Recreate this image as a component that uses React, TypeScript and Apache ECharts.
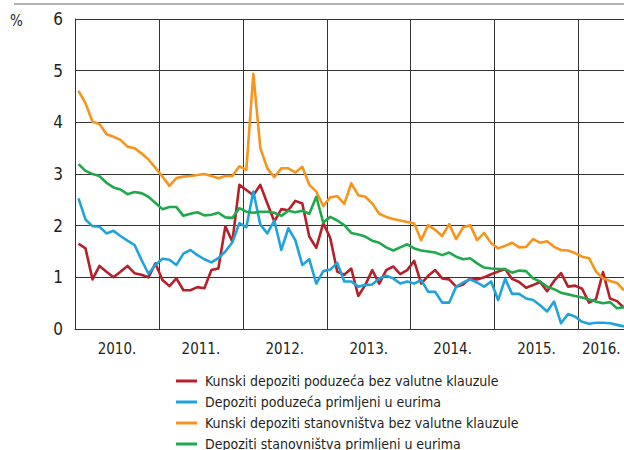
import { useEffect, useRef } from "react";
import * as echarts from "echarts";

const seriesNames = [
  "Kunski depoziti poduzeća bez valutne klauzule",
  "Depoziti poduzeća primljeni u eurima",
  "Kunski depoziti stanovništva bez valutne klauzule",
  "Depoziti stanovništva primljeni u eurima",
];
const seriesColors = ["#b5202a", "#1ea3dc", "#f7941d", "#1fa94b"];

const yearLabels = ["2010.", "2011.", "2012.", "2013.", "2014.", "2015.", "2016."];
const yearLabelMonths = [6, 18, 30, 42, 54, 66, 75.25];
const yTicks = [0, 1, 2, 3, 4, 5, 6];

// monthly values, Jan 2010 – Jul 2016
const redValues = [
  1.65, 1.56, 0.96, 1.22, 1.11, 1.0, 1.11, 1.22, 1.08, 1.05, 1.0, 1.27,
  0.95, 0.83, 0.98, 0.75, 0.75, 0.81, 0.79, 1.14, 1.17, 1.99, 1.69, 2.79,
  2.69, 2.59, 2.79, 2.43, 2.08, 2.32, 2.3, 2.48, 2.43, 1.79, 1.57, 2.05,
  1.76, 1.11, 1.05, 1.17, 0.64, 0.85, 1.14, 0.88, 1.14, 1.21, 1.06, 1.14,
  1.32, 0.88, 1.03, 1.14, 0.98, 0.96, 0.82, 0.86, 0.98, 0.96, 1.0, 1.06,
  1.11, 1.16, 0.97, 0.91, 0.8, 0.85, 0.91, 0.73, 0.93, 1.08, 0.82, 0.84,
  0.78, 0.51, 0.58, 1.1, 0.59, 0.54, 0.41,
];
const blueValues = [
  2.53, 2.12, 1.99, 1.98, 1.85, 1.9, 1.8, 1.71, 1.63, 1.34, 1.07, 1.24,
  1.36, 1.34, 1.24, 1.46, 1.53, 1.43, 1.35, 1.29, 1.37, 1.5, 1.68, 2.05,
  1.97, 2.66, 2.02, 1.85, 2.1, 1.53, 1.95, 1.72, 1.24, 1.35, 0.88, 1.12,
  1.15, 1.28, 0.92, 0.92, 0.82, 0.85, 0.86, 0.98, 1.03, 0.98, 0.88, 0.92,
  0.88, 0.95, 0.72, 0.72, 0.51, 0.51, 0.82, 0.9, 0.96, 0.9, 0.82, 0.92,
  0.56, 0.97, 0.68, 0.68, 0.59, 0.56, 0.46, 0.34, 0.53, 0.11, 0.29, 0.24,
  0.14, 0.1, 0.12, 0.12, 0.11, 0.08, 0.05,
];
const orangeValues = [
  4.61, 4.37, 4.01, 3.97, 3.77, 3.72, 3.66, 3.53, 3.5, 3.4, 3.28, 3.12,
  2.95, 2.77, 2.92, 2.95, 2.96, 2.98, 3.0, 2.96, 2.92, 2.96, 2.96, 3.15,
  3.08, 4.94, 3.5, 3.11, 2.94, 3.11, 3.11, 3.03, 3.14, 2.79, 2.66, 2.38,
  2.55, 2.57, 2.42, 2.82, 2.59, 2.56, 2.43, 2.23, 2.17, 2.13, 2.1, 2.07,
  2.04, 1.72, 2.01, 1.92, 1.8, 2.03, 1.74, 1.97, 2.01, 1.72, 1.86, 1.66,
  1.56, 1.61, 1.67, 1.58, 1.59, 1.74, 1.67, 1.7, 1.59, 1.53, 1.52, 1.47,
  1.4, 1.37, 1.11, 0.98, 0.93, 0.89, 0.75,
];
const greenValues = [
  3.19, 3.06, 3.0, 2.96, 2.83, 2.74, 2.7, 2.61, 2.65, 2.63, 2.56, 2.44,
  2.32, 2.36, 2.36, 2.19, 2.23, 2.26, 2.2, 2.21, 2.25, 2.16, 2.15, 2.34,
  2.27, 2.25, 2.27, 2.27, 2.25, 2.19, 2.29, 2.26, 2.29, 2.23, 2.56, 2.06,
  2.17, 2.1, 2.01, 1.86, 1.83, 1.79, 1.71, 1.67, 1.58, 1.52, 1.58, 1.64,
  1.56, 1.52, 1.5, 1.48, 1.43, 1.48, 1.4, 1.35, 1.37, 1.27, 1.19, 1.17,
  1.16, 1.16, 1.09, 1.13, 1.12, 0.98, 0.92, 0.82, 0.77, 0.7, 0.67, 0.64,
  0.61, 0.57, 0.53, 0.5, 0.52, 0.4, 0.42,
];
const allValues = [redValues, blueValues, orangeValues, greenValues];

const FONT = "'Liberation Sans Narrow', 'DejaVu Sans Condensed', 'Liberation Sans', sans-serif";

export default function App() {
  const ref = useRef<HTMLDivElement>(null);
  useEffect(() => {
    if (!ref.current) return;
    const chart = echarts.init(ref.current, null, { renderer: "svg" });
    const gridColor = "#333333";
    chart.setOption({
      animation: false,
      textStyle: { fontFamily: FONT, color: "#231f20" },
      title: {
        text: "%",
        left: 10,
        top: 13,
        padding: 0,
        textStyle: { fontFamily: FONT, fontSize: 15, fontWeight: "normal", color: "#231f20" },
      },
      graphic: [
        {
          type: "line",
          shape: { x1: 14, y1: 4, x2: 624, y2: 4 },
          style: { stroke: "#9a9a9a", lineWidth: 1.5 },
        },
      ],
      legend: {
        orient: "vertical",
        left: 176,
        top: 373,
        padding: 0,
        itemWidth: 21,
        itemHeight: 3,
        itemGap: 5,
        icon: "rect",
        textStyle: { fontFamily: FONT, fontSize: 14, color: "#231f20", lineHeight: 16, padding: [0, 0, 0, 3] },
        data: seriesNames,
      },
      grid: {
        left: 75,
        top: 19,
        right: 0,
        height: 310,
        containLabel: false,
        outerBoundsMode: "none",
      },
      xAxis: {
        type: "value",
        min: 0,
        max: 78.5,
        interval: 12,
        axisLine: { show: true, lineStyle: { color: gridColor, width: 1 } },
        axisTick: { show: false },
        splitLine: { show: true, lineStyle: { color: gridColor, width: 1 } },
        axisLabel: {
          customValues: yearLabelMonths,
          formatter: (v: number) => {
            const i = yearLabelMonths.indexOf(v);
            return i >= 0 ? yearLabels[i] : "";
          },
          fontFamily: FONT,
          fontSize: 15,
          color: "#231f20",
          margin: 12,
        },
      },
      yAxis: {
        type: "value",
        min: yTicks[0],
        max: yTicks[yTicks.length - 1],
        interval: 1,
        axisLine: { show: true, lineStyle: { color: gridColor, width: 1 } },
        axisTick: { show: false },
        splitLine: { show: true, lineStyle: { color: gridColor, width: 1 } },
        axisLabel: {
          fontFamily: FONT,
          fontSize: 17,
          color: "#231f20",
          margin: 12,
        },
      },
      series: allValues.map((vals, k) => ({
        name: seriesNames[k],
        type: "line",
        symbol: "none",
        showSymbol: false,
        data: vals.map((v, i) => [i + 0.5, v]),
        lineStyle: { color: seriesColors[k], width: 2.6, join: "round" },
        itemStyle: { color: seriesColors[k] },
      })),
    });
    return () => chart.dispose();
  }, []);
  return <div ref={ref} style={{ width: 624, height: 480, position: "absolute", left: 0, top: 0 }} />;
}
